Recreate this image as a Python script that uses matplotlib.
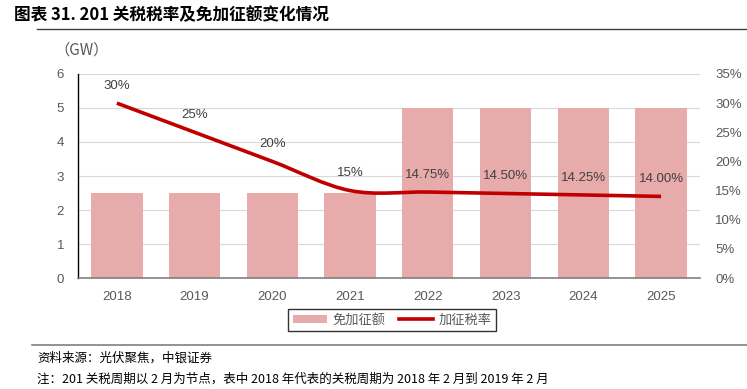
import matplotlib
matplotlib.use("Agg")
import matplotlib.pyplot as plt
from matplotlib.path import Path
from matplotlib.patches import PathPatch
from matplotlib.lines import Line2D
from matplotlib.patches import Patch
import numpy as np

years = ["2018", "2019", "2020", "2021", "2022", "2023", "2024", "2025"]
exempt_gw = [2.5, 2.5, 2.5, 2.5, 5, 5, 5, 5]
tariff_rate = [30, 25, 20, 15, 14.75, 14.5, 14.25, 14.0]
rate_labels = ["30%", "25%", "20%", "15%", "14.75%", "14.50%", "14.25%", "14.00%"]

CJK = ["Noto Sans CJK SC", "DejaVu Sans"]
LAT = ["Liberation Sans", "Noto Sans CJK SC"]
tick_color = "#595959"
bar_color = "#E8ABAB"
line_color = "#C00000"

fig = plt.figure(figsize=(7.47, 3.89), dpi=100)
ax = fig.add_axes([0.1044, 0.2853, 0.8326, 0.5245])
ax2 = ax.twinx()

x = np.arange(len(years))
ax.bar(x, exempt_gw, width=0.66, color=bar_color, zorder=2)
ax.set_xlim(-0.5, len(years) - 0.5)
ax.set_ylim(0, 6)
ax.set_yticks(range(0, 7))
ax.yaxis.grid(True, color="#D9D9D9", linewidth=0.8, zorder=0)
ax.set_axisbelow(True)
ax.set_xticks(x)
ax.set_xticklabels(years)
for lab in ax.get_xticklabels() + ax.get_yticklabels():
    lab.set_family(LAT)
    lab.set_fontsize(9.5)
    lab.set_color(tick_color)
ax.tick_params(axis="y", length=0, pad=10)
ax.tick_params(axis="x", length=0, pad=9)
ax.spines["top"].set_visible(False)
ax.spines["right"].set_visible(False)
ax.spines["left"].set_color("black")
ax.spines["left"].set_linewidth(1.0)
ax.spines["bottom"].set_color("#7F7F7F")
ax.spines["bottom"].set_linewidth(1.2)

ax2.set_ylim(0, 35)
ax2.set_yticks(range(0, 36, 5))
ax2.set_yticklabels([f"{v}%" for v in range(0, 36, 5)])
for lab in ax2.get_yticklabels():
    lab.set_family(LAT)
    lab.set_fontsize(9.5)
    lab.set_color(tick_color)
ax2.tick_params(axis="y", length=0, pad=11)
for s in ax2.spines.values():
    s.set_visible(False)

# smoothed line (Catmull-Rom -> cubic Bezier) through the data points
pts = np.column_stack([x, tariff_rate]).astype(float)
verts = [tuple(pts[0])]
codes = [Path.MOVETO]
n = len(pts)
for i in range(n - 1):
    p0 = pts[max(i - 1, 0)]
    p1 = pts[i]
    p2 = pts[i + 1]
    p3 = pts[min(i + 2, n - 1)]
    c1 = p1 + (p2 - p0) / 6.0
    c2 = p2 - (p3 - p1) / 6.0
    verts += [tuple(c1), tuple(c2), tuple(p2)]
    codes += [Path.CURVE4] * 3
path = Path(verts, codes)
ax2.add_patch(PathPatch(path, facecolor="none", edgecolor=line_color, linewidth=2.6, zorder=5))

for xi, yi, lab in zip(x, tariff_rate, rate_labels):
    ax2.annotate(lab, (xi, yi), xytext=(0, 12.5), textcoords="offset points",
                 ha="center", va="center", fontsize=9.5, color="#404040", family=LAT)

# unit label
fig.text(54 / 747, 1 - 50 / 389, "（GW）", fontsize=11, color=tick_color, family=CJK,
         ha="left", va="center")

# title
fig.text(14 / 747, 1 - 15 / 389, "图表 31. 201 关税税率及免加征额变化情况", fontsize=12,
         fontweight="bold", family=CJK, ha="left", va="center", color="black")
fig.add_artist(Line2D([37 / 747, 1.0], [1 - 29 / 389] * 2, color="#404040", linewidth=1.0))

# legend
handles = [Patch(facecolor=bar_color, edgecolor="none"),
           Line2D([0], [0], color=line_color, linewidth=2.6)]
leg = fig.legend(handles, ["免加征额", "加征税率"], loc="center",
                 bbox_to_anchor=(392 / 747, 1 - 320 / 389), ncol=2, frameon=True,
                 prop={"family": CJK, "size": 9.5}, handlelength=2.6, handleheight=0.5,
                 columnspacing=1.0, handletextpad=0.4, borderpad=0.35, fancybox=False)
leg.get_frame().set_edgecolor("black")
leg.get_frame().set_linewidth(1.0)
for t in leg.get_texts():
    t.set_color(tick_color)

# footer
fig.add_artist(Line2D([32 / 747, 1.0], [1 - 345 / 389] * 2, color="#808080", linewidth=1.2))
fig.text(37 / 747, 1 - 358 / 389, "资料来源：光伏聚焦，中银证券", fontsize=9, style="italic",
         family=CJK, ha="left", va="center", color="black")
fig.text(37 / 747, 1 - 379 / 389,
         "注：201 关税周期以 2 月为节点，表中 2018 年代表的关税周期为 2018 年 2 月到 2019 年 2 月",
         fontsize=9, style="italic", family=CJK, ha="left", va="center", color="black")

fig.savefig("out.png", dpi=100)
